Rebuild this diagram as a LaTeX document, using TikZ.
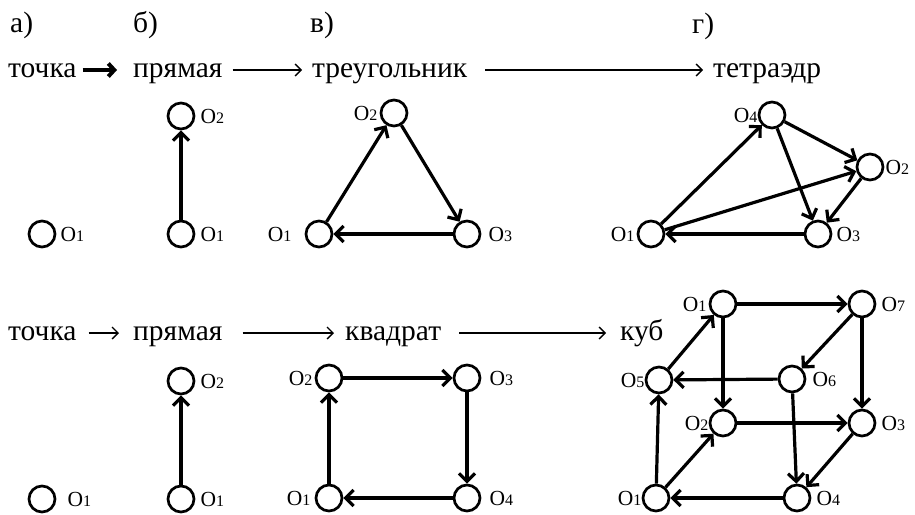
\documentclass[tikz,border=0pt]{standalone}
\usepackage{fontspec}
\setmainfont{Liberation Serif}
\usetikzlibrary{arrows.meta}
% vertex label: letter O with a smaller index digit on the baseline
\newcommand\onum[1]{O{\fontsize{16}{16}\selectfont #1}}

\begin{document}
\begin{tikzpicture}[x=1pt,y=-1pt,
  vtx/.style={circle,draw,line width=2.7pt,minimum size=26pt,inner sep=0pt},
  lbl/.style={font=\fontsize{21.5}{21.5}\selectfont,inner sep=0pt},
  word/.style={font=\fontsize{29.5}{29.5}\selectfont,inner sep=0pt,anchor=base west},
  edge/.style={line width=3.2pt,-{Straight Barb[length=8pt,width=16pt,line width=3.2pt]}},
  flow/.style={line width=1.3pt,-{Straight Barb[length=6pt,width=12pt,line width=1.3pt]}},
  boldflow/.style={line width=4.2pt,-{Straight Barb[length=6pt,width=13pt,line width=4pt]}},
]
\useasboundingbox (0,0) rectangle (915,514);

% column headings
\node[word] (ha) at (10,32) {а)};
\node[word] (hb) at (133,32) {б)};
\node[word] (hc) at (310,32) {в)};
\node[word] (hd) at (692,33) {г)};

% ---------- upper row: point -> line -> triangle -> tetrahedron ----------
\node[word] (u1) at (8,77) {точка};
\node[word] (u2) at (133,77) {прямая};
\node[word] (u3) at (312,77) {треугольник};
\node[word] (u4) at (713,77) {тетраэдр};
\draw[boldflow] ([xshift=6pt,yshift=7pt]u1.base east) -- ([xshift=-16pt,yshift=7pt]u2.base west);
\draw[flow] ([xshift=10pt,yshift=7pt]u2.base east) -- ([xshift=-10pt,yshift=7pt]u3.base west);
\draw[flow] ([xshift=18pt,yshift=7pt]u3.base east) -- ([xshift=-10pt,yshift=7pt]u4.base west);

% point
\node[vtx] (pa1) at (42,234) {};
\node[lbl,anchor=west] (pa1l) at ([xshift=4pt]pa1.east) {\onum1};

% segment
\node[vtx] (pb1) at (181,234) {};
\node[vtx] (pb2) at (181,116) {};
\node[lbl,anchor=west] (pb1l) at ([xshift=5pt]pb1.east) {\onum1};
\node[lbl,anchor=west] (pb2l) at ([xshift=5pt]pb2.east) {\onum2};
\draw[edge] (pb1) -- (pb2);

% triangle
\node[vtx] (tr1) at (319,234) {};
\node[vtx] (tr2) at (394,113) {};
\node[vtx] (tr3) at (467,234) {};
\node[lbl,anchor=east] (tr1l) at ([xshift=-13pt]tr1.west) {\onum1};
\node[lbl,anchor=east] (tr2l) at ([xshift=-2pt]tr2.west) {\onum2};
\node[lbl,anchor=west] (tr3l) at ([xshift=7pt]tr3.east) {\onum3};
\draw[edge] (tr1) -- (tr2);
\draw[edge] (tr2) -- (tr3);
\draw[edge] (tr3) -- (tr1);

% tetrahedron
\node[vtx] (te1) at (651,234) {};
\node[vtx] (te2) at (870,167) {};
\node[vtx] (te3) at (818,234) {};
\node[vtx] (te4) at (772,115) {};
\node[lbl,anchor=east] (te1l) at ([xshift=-2pt]te1.west) {\onum1};
\node[lbl,anchor=west] (te2l) at ([xshift=1pt]te2.east) {\onum2};
\node[lbl,anchor=west] (te3l) at ([xshift=4pt]te3.east) {\onum3};
\node[lbl,anchor=east] (te4l) at ([xshift=0pt]te4.west) {\onum4};
\draw[edge] (te1) -- (te4);
\draw[edge] (te1) -- (te2);
\draw[edge] (te4) -- (te2);
\draw[edge] (te4) -- (te3);
\draw[edge] (te2) -- (te3);
\draw[edge] (te3) -- (te1);

% ---------- lower row: point -> line -> square -> cube ----------
\node[word] (l1) at (8,340) {точка};
\node[word] (l2) at (133,340) {прямая};
\node[word] (l3) at (345,340) {квадрат};
\node[word] (l4) at (620,340) {куб};
\draw[flow] ([xshift=12pt,yshift=7pt]l1.base east) -- ([xshift=-14pt,yshift=7pt]l2.base west);
\draw[flow] ([xshift=20pt,yshift=7pt]l2.base east) -- ([xshift=-11pt,yshift=7pt]l3.base west);
\draw[flow] ([xshift=18pt,yshift=7pt]l3.base east) -- ([xshift=-14pt,yshift=7pt]l4.base west);

% point
\node[vtx] (qa1) at (42,499) {};
\node[lbl,anchor=west] (qa1l) at ([xshift=11pt]qa1.east) {\onum1};

% segment
\node[vtx] (qb1) at (181,499) {};
\node[vtx] (qb2) at (181,381) {};
\node[lbl,anchor=west] (qb1l) at ([xshift=5pt]qb1.east) {\onum1};
\node[lbl,anchor=west] (qb2l) at ([xshift=5pt]qb2.east) {\onum2};
\draw[edge] (qb1) -- (qb2);

% square
\node[vtx] (sq1) at (329,498) {};
\node[vtx] (sq2) at (329,378) {};
\node[vtx] (sq3) at (467,378) {};
\node[vtx] (sq4) at (467,498) {};
\node[lbl,anchor=east] (sq1l) at ([xshift=-4pt]sq1.west) {\onum1};
\node[lbl,anchor=east] (sq2l) at ([xshift=-2pt]sq2.west) {\onum2};
\node[lbl,anchor=west] (sq3l) at ([xshift=8pt]sq3.east) {\onum3};
\node[lbl,anchor=west] (sq4l) at ([xshift=8pt]sq4.east) {\onum4};
\draw[edge] (sq1) -- (sq2);
\draw[edge] (sq2) -- (sq3);
\draw[edge] (sq3) -- (sq4);
\draw[edge] (sq4) -- (sq1);

% cube
\node[vtx] (cb1) at (656,498) {};
\node[vtx] (cb2) at (723,423) {};
\node[vtx] (cb3) at (862,423) {};
\node[vtx] (cb4) at (797,498) {};
\node[vtx] (cb5) at (659,380) {};
\node[vtx] (cb6) at (792,379) {};
\node[vtx] (cb7) at (862,304) {};
\node[vtx] (cb8) at (723,304) {};
\node[lbl,anchor=east] (cb1l) at ([xshift=0pt]cb1.west) {\onum1};
\node[lbl,anchor=east] (cb2l) at ([xshift=0pt]cb2.west) {\onum2};
\node[lbl,anchor=west] (cb3l) at ([xshift=5pt]cb3.east) {\onum3};
\node[lbl,anchor=west] (cb4l) at ([xshift=5pt]cb4.east) {\onum4};
\node[lbl,anchor=east] (cb5l) at ([xshift=0pt]cb5.west) {\onum5};
\node[lbl,anchor=west] (cb6l) at ([xshift=6pt]cb6.east) {\onum6};
\node[lbl,anchor=west] (cb7l) at ([xshift=5pt]cb7.east) {\onum7};
\node[lbl,anchor=east] (cb8l) at ([xshift=-2pt]cb8.west) {\onum1};
\draw[edge] (cb8) -- (cb7);
\draw[edge] (cb7) -- (cb6);
\draw[edge] (cb6) -- (cb5);
\draw[edge] (cb5) -- (cb8);
\draw[edge] (cb8) -- (cb2);
\draw[edge] (cb7) -- (cb3);
\draw[edge] (cb2) -- (cb3);
\draw[edge] (cb3) -- (cb4);
\draw[edge] (cb4) -- (cb1);
\draw[edge] (cb1) -- (cb5);
\draw[edge] (cb1) -- (cb2);
\draw[edge] (cb6) -- (cb4);
\end{tikzpicture}
\end{document}
